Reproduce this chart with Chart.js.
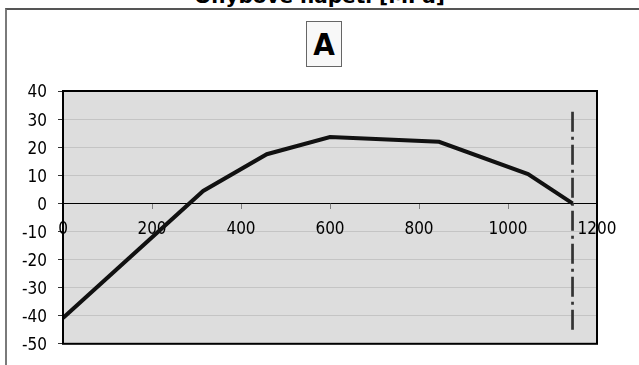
<!DOCTYPE html>
<html><head><meta charset="utf-8">
<script src="https://cdn.jsdelivr.net/npm/chart.js@4.4.0/dist/chart.umd.min.js"></script>
<style>
html,body{margin:0;padding:0;background:#fff;overflow:hidden;}
#wrap{position:relative;width:639px;height:365px;}
#frame{position:absolute;left:5px;top:8px;width:700px;height:400px;border-left:2px solid #7a7a7a;border-top:2px solid #555;}
#title{position:absolute;left:0;width:639px;top:-14px;text-align:center;font:bold 20px "DejaVu Sans";line-height:20px;color:#000;}
#badge{position:absolute;left:306px;top:21px;width:34px;height:44px;border:1px solid #666;background:#f8f8f8;text-align:center;font:bold 31px "DejaVu Sans Condensed";line-height:44px;color:#000;}
canvas{position:absolute;left:0;top:0;}
</style></head>
<body><div id="wrap">
<div id="frame"></div>
<div id="title">Ohybové napětí [MPa]</div>
<div id="badge">A</div>
<canvas id="c" width="639" height="365"></canvas>
</div>
<script>
const xValues = [0, 315, 458, 600, 845, 1045, 1145];
const stressValues = [-40.8, 4.4, 17.5, 23.6, 21.9, 10.4, 0];
const limitX = 1145;
const limitYRange = [-45, 33];
const xTicks = [0, 200, 400, 600, 800, 1000, 1200];
const yTicks = [-50, -40, -30, -20, -10, 0, 10, 20, 30, 40];

const plotBg = {
  id: 'plotBg',
  beforeDraw(chart) {
    const {ctx, chartArea: a} = chart;
    ctx.save(); ctx.fillStyle = '#dddddd';
    ctx.fillRect(a.left, a.top, a.right - a.left, a.bottom - a.top);
    ctx.restore();
  },
  afterDraw(chart) {
    const {ctx, chartArea: a} = chart;
    ctx.save(); ctx.strokeStyle = '#000'; ctx.lineWidth = 2;
    ctx.strokeRect(a.left, a.top, a.right - a.left, a.bottom - a.top);
    ctx.restore();
  }
};

new Chart(document.getElementById('c'), {
  type: 'scatter',
  data: {
    datasets: [
      {
        data: xValues.map((x, i) => ({x, y: stressValues[i]})),
        showLine: true, borderColor: '#111', borderWidth: 4, pointRadius: 0,
        fill: false, tension: 0, order: 1
      },
      {
        data: limitYRange.map(y => ({x: limitX, y})),
        showLine: true, borderColor: '#333', borderWidth: 2.7, pointRadius: 0,
        borderDash: [20, 5, 3, 5], fill: false, order: 2
      }
    ]
  },
  options: {
    responsive: false, animation: false,
    layout: {padding: {top: 91, right: 42, bottom: 21, left: 0}},
    plugins: {legend: {display: false}, tooltip: {enabled: false}},
    scales: {
      x: {
        type: 'linear', min: 0, max: 1200,
        position: {y: 0},
        afterBuildTicks: s => { s.ticks = xTicks.map(v => ({value: v})); },
        grid: {drawOnChartArea: false, drawTicks: true, tickLength: 5, tickColor: '#808080'},
        border: {display: true, color: '#000', width: 1},
        ticks: {color: '#000', padding: 11, maxRotation: 0, autoSkip: false,
                callback: v => String(v),
                font: {family: 'DejaVu Sans Condensed', size: 17}}
      },
      y: {
        min: -50, max: 40,
        afterBuildTicks: s => { s.ticks = yTicks.map(v => ({value: v})); },
        afterFit: s => { s.width = 63; },
        grid: {color: '#c4c4c4', lineWidth: 1, drawTicks: true, tickLength: 5, tickColor: '#333'},
        border: {display: false},
        ticks: {color: '#000', padding: 11, labelOffset: 2, callback: v => String(v),
                font: {family: 'DejaVu Sans Condensed', size: 17}}
      }
    }
  },
  plugins: [plotBg]
});
</script>
</body></html>
